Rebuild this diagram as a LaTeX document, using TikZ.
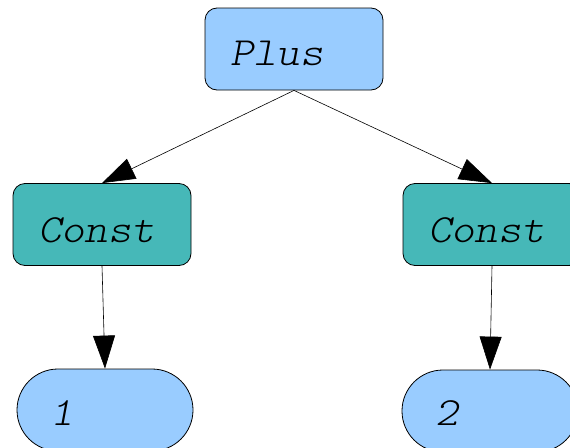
\documentclass[tikz,border=0pt]{standalone}
\usepackage{fontspec}
\newfontfamily\monofont[FakeStretch=1.11]{Latin Modern Mono Light}
\usetikzlibrary{arrows.meta}
\definecolor{lightblue}{HTML}{99CCFF}
\definecolor{tealfill}{HTML}{46B8B8}
\tikzset{
  box/.style={draw=black, line width=0.8pt, rounded corners=12pt, minimum width=178pt, minimum height=82pt, inner sep=0pt},
  plusbox/.style={box, fill=lightblue},
  constbox/.style={box, fill=tealfill},
  valbox/.style={draw=black, line width=0.8pt, rounded corners=41pt, minimum width=176pt, minimum height=82pt, inner sep=0pt, fill=lightblue},
  lbl/.style={font=\monofont\slshape\fontsize{40}{40}\selectfont, inner sep=0pt, anchor=base west},
  conn/.style={draw=black, line width=0.6pt, -{Triangle[length=33pt,width=22pt]}, shorten >=0pt}
}
\begin{document}
\begin{tikzpicture}[x=1pt,y=-1pt]
\useasboundingbox (0,0) rectangle (570,447);
\node[plusbox] (plus) at (294,49) {};
\node[constbox] (cl) at (102,224.5) {};
\node[constbox] (cr) at (492,224.5) {};
\node[valbox] (v1) at (105,410) {};
\node[valbox] (v2) at (490,411) {};
\node[lbl] (tplus) at (230,65) {Plus};
\node[lbl] (tcl) at (38,242) {Const};
\node[lbl] (tcr) at (428,242) {Const};
\node[lbl] (t1) at (50,425) {1};
\node[lbl] (t2) at (435,425) {2};
\draw[conn] (plus.south) -- (cl.north);
\draw[conn] (plus.south) -- (cr.north);
\draw[conn] (cl.south) -- (v1.north);
\draw[conn] (cr.south) -- (v2.north);
\end{tikzpicture}
\end{document}
